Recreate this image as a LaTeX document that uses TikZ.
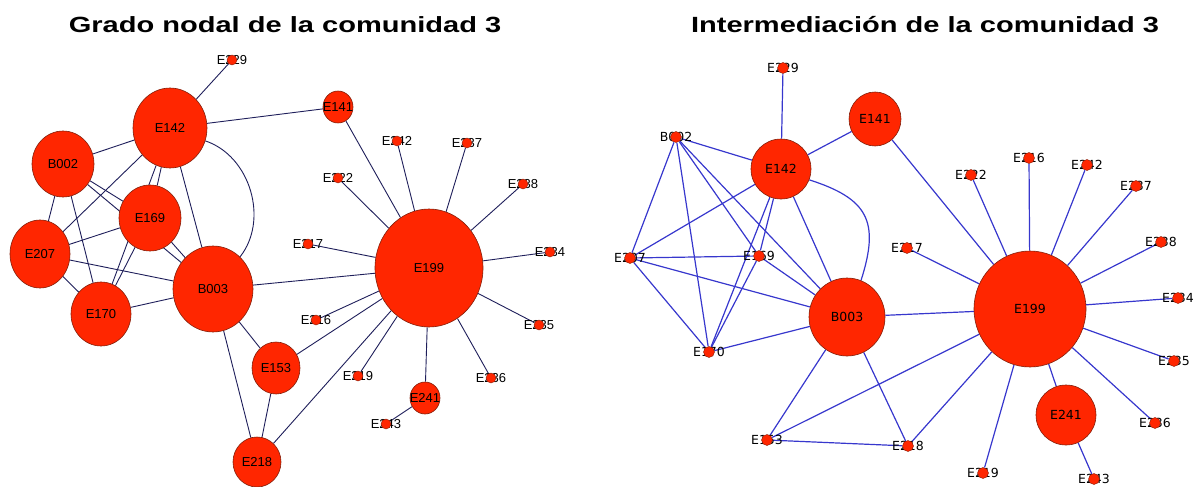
\documentclass[tikz,border=0pt]{standalone}
\usepackage{graphicx}
\usepackage{fontspec}
\setmainfont{Liberation Sans}
\newfontfamily\dejavu{DejaVu Sans}
\usetikzlibrary{shapes.geometric}
\usetikzlibrary{backgrounds}
\definecolor{nodered}{RGB}{255,38,0}
\definecolor{noderim}{RGB}{130,30,10}
\definecolor{navyedge}{RGB}{30,30,90}
\definecolor{blueedge}{RGB}{55,55,205}
\tikzstyle{bignode}=[ellipse,fill=nodered,draw=noderim,line width=0.6pt,inner sep=0pt]
\tikzstyle{dotnode}=[circle,fill=nodered,draw=noderim,line width=0.4pt,inner sep=0pt]
\tikzstyle{leftedge} = [draw,navyedge,line width=0.9pt]
\tikzstyle{rightedge} = [draw,blueedge,line width=1.2pt]
\tikzstyle{lefttext} = [font=\fontsize{13}{13}\selectfont]
\tikzstyle{righttext} = [font=\dejavu\fontsize{12.5}{13}\selectfont]
\tikzstyle{paneltitle} = [font=\fontsize{22}{26}\selectfont\bfseries, anchor=base]

\begin{document}
\begin{tikzpicture}[x=1pt,y=-1pt]

  \useasboundingbox (0,0) rectangle (1195,487);

  \node[paneltitle] (titleL) at (285,33) {\scalebox{1.32}[1]{Grado nodal de la comunidad 3}};
  \node[paneltitle] (titleR) at (925,33) {\scalebox{1.32}[1]{Intermediación de la comunidad 3}};

  % left panel: grado nodal
  \foreach \x/\y/\name/\rx/\ry/\label in {170/128/lE142/37/40/E142, 338/107/lE141/15/16/E141, 63/164/lB002/31/33/B002,
          150/218/lE169/31/33/E169, 40/254/lE207/30/34/E207, 213/289/lB003/40/43/B003, 101/314/lE170/30/32/E170,
          429/268/lE199/54/59/E199, 276/368/lE153/24/26/E153, 257/462/lE218/24/25/E218, 425/398/lE241/15/16/E241}
          \node[bignode, lefttext, minimum width=2*\rx, minimum height=2*\ry] (\name) at (\x,\y) {\makebox[0pt]{\label}};

  \foreach \x/\y/\name/\label in {232/60/lE229/E229, 397/141/lE242/E242, 467/143/lE237/E237, 338/178/lE222/E222,
          523/184/lE238/E238, 308/244/lE217/E217, 550/252/lE234/E234, 316/320/lE216/E216, 539/325/lE235/E235,
          358/376/lE219/E219, 491/378/lE236/E236, 386/424/lE243/E243}
  {
          \node[lefttext, inner sep=0pt] (\name-txt) at (\x,\y) {\label};
          \node[dotnode, minimum size=10pt] (\name) at (\x,\y) {};
  }

  \begin{pgfonlayer}{background}
  \foreach \source/ \dest in {lE229/lE142, lE142/lE141, lE142/lB002, lE142/lE169, lE142/lE170, lE142/lE207, lE142/lB003,
          lB002/lE207, lB002/lE170, lB002/lE169, lB002/lB003, lE169/lE207, lE169/lE170, lE169/lB003, lE207/lE170,
          lE207/lB003, lE170/lB003, lB003/lE199, lB003/lE153, lB003/lE218, lE153/lE218, lE153/lE199, lE218/lE199}
         \path[leftedge] (\source) -- (\dest);

  \foreach \source/ \dest in {lE141/lE199, lE242/lE199, lE237/lE199, lE222/lE199, lE238/lE199, lE217/lE199, lE234/lE199,
          lE216/lE199, lE235/lE199, lE219/lE199, lE236/lE199, lE241/lE199, lE243/lE241}
         \path[leftedge] (\source) -- (\dest);

  \path[leftedge] (lE142) to[bend left=55] (lB003);
  \end{pgfonlayer}

  % right panel: intermediacion
  \foreach \x/\y/\name/\rx/\ry/\label in {781/169/rE142/30/30/E142, 875/119/rE141/26/27/E141, 847/317/rB003/38/39/B003,
          1030/309/rE199/56/58/E199, 1066/415/rE241/30/30/E241}
          \node[bignode, righttext, minimum width=2*\rx, minimum height=2*\ry] (\name) at (\x,\y) {\makebox[0pt]{\label}};

  \foreach \x/\y/\name/\label in {783/68/rE229/E229, 676/137/rB002/B002, 630/258/rE207/E207, 759/256/rE169/E169,
          709/352/rE170/E170, 971/175/rE222/E222, 1029/158/rE216/E216, 1087/165/rE242/E242, 1136/186/rE237/E237,
          1161/242/rE238/E238, 907/248/rE217/E217, 1178/298/rE234/E234, 1174/361/rE235/E235, 1155/423/rE236/E236,
          983/473/rE219/E219, 908/446/rE218/E218, 767/440/rE153/E153, 1094/479/rE243/E243}
  {
          \node[righttext, inner sep=0pt] (\name-txt) at (\x,\y) {\label};
          \node[dotnode, minimum size=11pt] (\name) at (\x,\y) {};
  }

  \begin{pgfonlayer}{background}
  \foreach \source/ \dest in {rE229/rE142, rE142/rE141, rE142/rB002, rE142/rE169, rE142/rE170, rE142/rE207, rE142/rB003,
          rB002/rE207, rB002/rE170, rB002/rE169, rB002/rB003, rE169/rE207, rE169/rE170, rE169/rB003, rE207/rE170,
          rE207/rB003, rE170/rB003, rB003/rE199, rB003/rE153, rB003/rE218, rE153/rE218, rE153/rE199, rE218/rE199}
         \path[rightedge] (\source) -- (\dest);

  \foreach \source/ \dest in {rE141/rE199, rE242/rE199, rE237/rE199, rE222/rE199, rE216/rE199, rE238/rE199, rE217/rE199,
          rE234/rE199, rE235/rE199, rE219/rE199, rE236/rE199, rE241/rE199, rE243/rE241}
         \path[rightedge] (\source) -- (\dest);

  \path[rightedge] (rE142) to[bend left=45, looseness=1.4] (rB003);
  \end{pgfonlayer}

\end{tikzpicture}
\end{document}
